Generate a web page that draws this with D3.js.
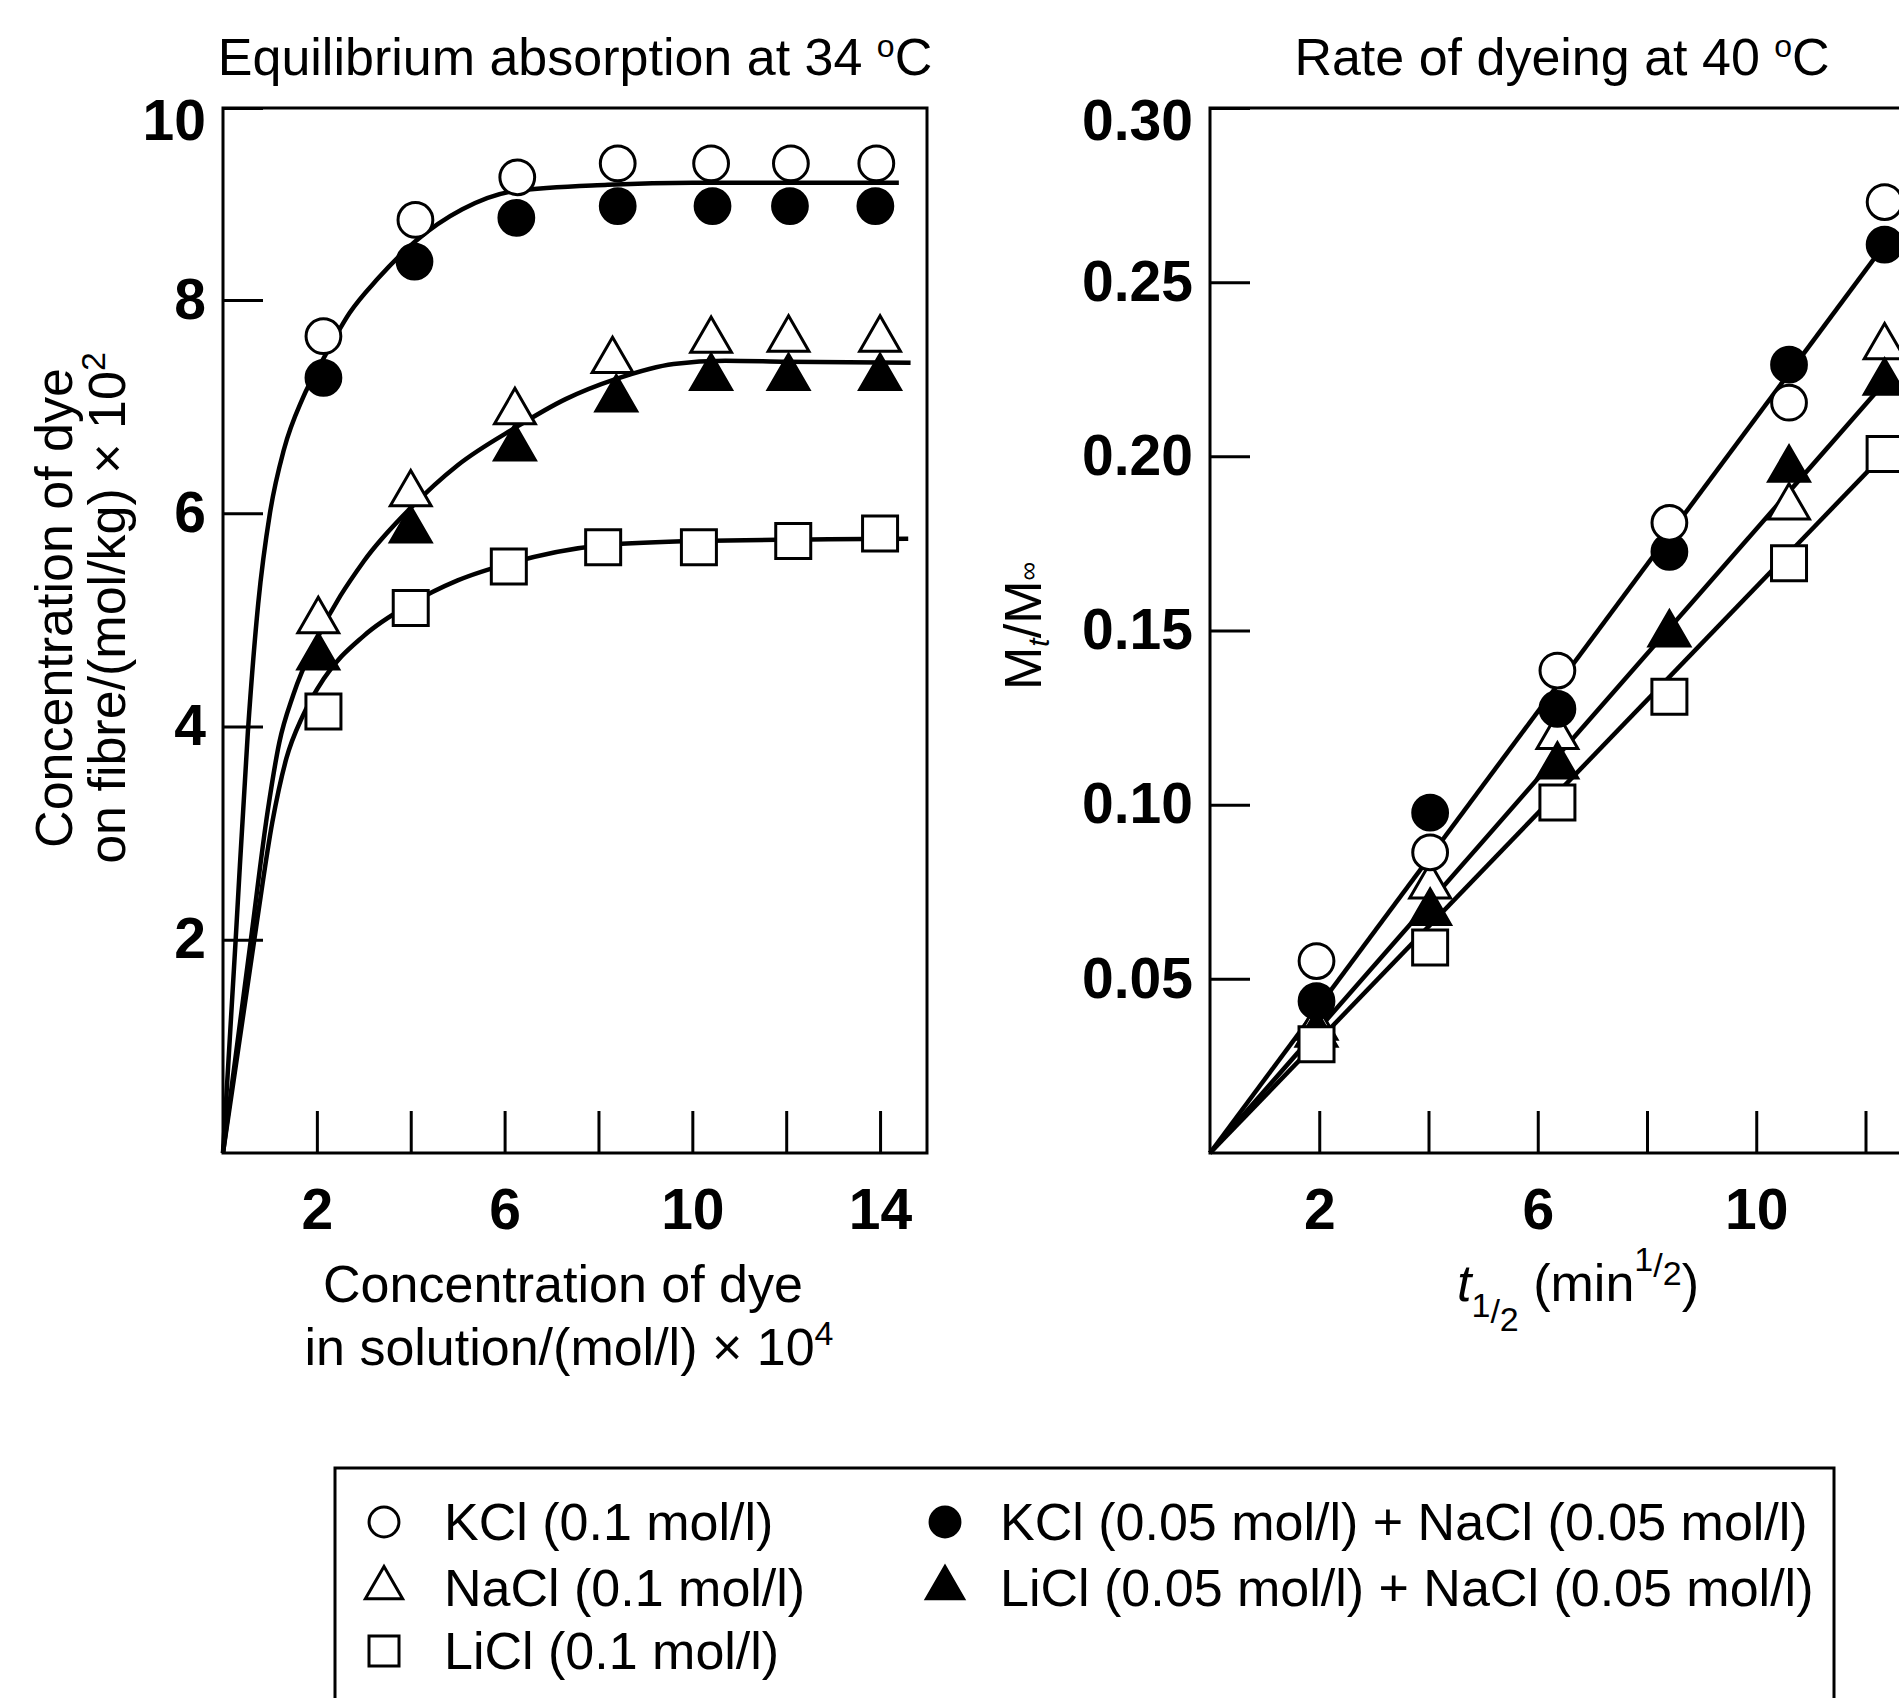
<!DOCTYPE html>
<html lang="en">
<head>
<meta charset="UTF-8">
<title>Dye absorption and rate of dyeing</title>
<script src="https://cdn.jsdelivr.net/npm/d3@7"></script>
<style>
  body { margin: 0; background: #fff; }
  svg { display: block; font-family: "Liberation Sans", Arial, Helvetica, sans-serif; }
  .tick text { font-weight: bold; font-size: 57px; fill: #000; }
  .tick line { stroke: #000; stroke-width: 3px; }
  .frame { fill: none; stroke: #000; stroke-width: 3px; }
  .fit { fill: none; stroke: #000; stroke-width: 4.5px; }
  .lbl { font-size: 52px; fill: #000; }
</style>
</head>
<body>
<svg id="chart" width="1899" height="1698"></svg>
<script>
// ---- left panel: equilibrium absorption at 34 oC ----
const eqTicksX = [2, 4, 6, 8, 10, 12, 14];
const eqLabelsX = [2, 6, 10, 14];
const eqTicksY = [2, 4, 6, 8, 10];

// measured points [conc in solution, conc on fibre]
const eqKCl      = [[2.14, 7.66], [4.10, 8.75], [6.27, 9.15], [8.41, 9.28], [10.4, 9.28], [12.1, 9.28], [13.92, 9.28]];
const eqKClNaCl  = [[2.14, 7.27], [4.08, 8.36], [6.25, 8.77], [8.41, 8.88], [10.43, 8.88], [12.08, 8.88], [13.9, 8.88]];
const eqNaCl     = [[2.03, 4.99], [4.0, 6.18], [6.22, 6.95], [8.3, 7.43], [10.4, 7.62], [12.05, 7.63], [14.0, 7.63]];
const eqLiClNaCl = [[2.03, 4.65], [4.0, 5.84], [6.22, 6.61], [8.38, 7.07], [10.4, 7.27], [12.05, 7.27], [14.0, 7.27]];
const eqLiCl     = [[2.14, 4.14], [4.0, 5.11], [6.09, 5.5], [8.1, 5.68], [10.14, 5.68], [12.15, 5.74], [14.0, 5.81]];

// fitted curves as drawn
const eqFitKCl  = [[0, 0], [0.27, 2.0], [0.53, 3.95], [0.75, 5.15], [1.0, 6.0], [1.3, 6.6], [1.7, 7.08], [2.14, 7.45],
                   [2.7, 7.88], [3.3, 8.2], [4.1, 8.55], [5.1, 8.85], [6.2, 9.02], [8.2, 9.08], [10, 9.1], [14.4, 9.1]];
const eqFitNaCl = [[0, 0], [0.6, 2.02], [0.95, 3.2], [1.2, 3.85], [1.5, 4.3], [2.0, 4.82], [3.0, 5.55], [4.0, 6.05],
                   [5.0, 6.45], [6.22, 6.8], [7.3, 7.07], [8.38, 7.26], [9.6, 7.4], [10.7, 7.43], [12, 7.42], [14.65, 7.41]];
const eqFitLiCl = [[0, 0], [0.7, 2.1], [1.05, 3.1], [1.35, 3.7], [1.7, 4.1], [2.15, 4.45], [3, 4.85], [4, 5.15],
                   [5, 5.37], [6.1, 5.53], [8.1, 5.7], [10.1, 5.74], [14.6, 5.76]];

// ---- right panel: rate of dyeing at 40 oC ----
const rateTicksX = [2, 4, 6, 8, 10, 12, 14];
const rateLabelsX = [2, 6, 10];
const rateTicksY = [0.05, 0.10, 0.15, 0.20, 0.25, 0.30];

const rateKCl      = [[1.95, 0.0551], [4.03, 0.0863], [6.36, 0.1385], [8.41, 0.1809], [10.6, 0.2154], [12.35, 0.2730]];
const rateKClNaCl  = [[1.95, 0.0436], [4.03, 0.0977], [6.36, 0.1275], [8.41, 0.1726], [10.6, 0.2263], [12.35, 0.2608]];
const rateNaCl     = [[1.95, 0.036], [4.03, 0.0766], [6.36, 0.1195], [10.6, 0.1854], [12.35, 0.2314]];
const rateLiClNaCl = [[1.95, 0.034], [4.03, 0.0690], [6.36, 0.111], [8.41, 0.1489], [10.6, 0.1962], [12.35, 0.2212]];
const rateLiCl     = [[1.95, 0.0312], [4.03, 0.0590], [6.36, 0.1006], [8.41, 0.131], [10.6, 0.1693], [12.35, 0.2007]];

const rateFitTop = [[0, 0], [12.35, 0.2608]];
const rateFitMid = [[0, 0], [12.35, 0.2212]];
const rateFitLow = [[0, 0], [12.35, 0.2007]];

// legend
const legendLabels = ["KCl (0.1 mol/l)", "NaCl (0.1 mol/l)", "LiCl (0.1 mol/l)",
                      "KCl (0.05 mol/l) + NaCl (0.05 mol/l)", "LiCl (0.05 mol/l) + NaCl (0.05 mol/l)"];

const svg = d3.select("#chart");
svg.append("rect").attr("width", 1899).attr("height", 1698).attr("fill", "#fff");

const symbols = {
    circle: d3.symbol(d3.symbolCircle, 950),
    triangle: d3.symbol(d3.symbolTriangle, 720),
    square: d3.symbol(d3.symbolSquare, 1225)
};
const legSymbols = {
    circle: d3.symbol(d3.symbolCircle, 700),
    triangle: d3.symbol(d3.symbolTriangle, 600),
    square: d3.symbol(d3.symbolSquare, 900)
};

// style per series: shape + filled
const styles = [
    {shape: "circle", filled: false},
    {shape: "triangle", filled: false},
    {shape: "square", filled: false},
    {shape: "circle", filled: true},
    {shape: "triangle", filled: true}
];

function drawMarkers(g, data, st, x, y) {
    g.selectAll(null)
        .data(data)
        .enter()
        .append("path")
        .attr("d", symbols[st.shape])
        .attr("transform", d => `translate(${x(d[0])},${y(d[1])})`)
        .attr("fill", st.filled ? "#000" : "#fff")
        .attr("stroke", "#000")
        .attr("stroke-width", 3);
}

function drawAxes(g, x, y, ticksX, labelsX, ticksY, fmtY, bottom, left) {
    g.append("g")
        .attr("transform", `translate(0,${bottom})`)
        .call(d3.axisBottom(x).tickValues(ticksX).tickSize(-42).tickSizeOuter(0).tickPadding(36)
            .tickFormat(d => labelsX.includes(d) ? d : ""))
        .call(a => a.select(".domain").remove());
    const top = d3.max(ticksY);
    g.append("g")
        .attr("transform", `translate(${left},0)`)
        .call(d3.axisLeft(y).tickValues(ticksY).tickSize(-40).tickSizeOuter(0).tickPadding(17).tickFormat(fmtY))
        .call(a => a.select(".domain").remove())
        // top label sits a little under the frame line
        .call(a => a.selectAll(".tick").filter(d => d === top).select("text").attr("dy", "0.55em"));
}

// ---------- left panel ----------
const xEq = d3.scaleLinear().domain([0, 15]).range([223, 927]);
const yEq = d3.scaleLinear().domain([0, 9.8]).range([1153, 108]).clamp(true);
const gEq = svg.append("g");

drawAxes(gEq, xEq, yEq, eqTicksX, eqLabelsX, eqTicksY, d3.format("d"), 1153, 223);

const curve = d3.line().x(d => xEq(d[0])).y(d => yEq(d[1])).curve(d3.curveMonotoneX);
[eqFitKCl, eqFitNaCl, eqFitLiCl].forEach(c => {
    gEq.append("path").attr("class", "fit").attr("d", curve(c));
});

gEq.append("rect").attr("class", "frame")
    .attr("x", xEq(0)).attr("y", yEq.range()[1])
    .attr("width", xEq(15) - xEq(0)).attr("height", yEq.range()[0] - yEq.range()[1]);

drawMarkers(gEq, eqLiCl, styles[2], xEq, yEq);
drawMarkers(gEq, eqLiClNaCl, styles[4], xEq, yEq);
drawMarkers(gEq, eqNaCl, styles[1], xEq, yEq);
drawMarkers(gEq, eqKClNaCl, styles[3], xEq, yEq);
drawMarkers(gEq, eqKCl, styles[0], xEq, yEq);

// titles
const t1 = svg.append("text").attr("class", "lbl").attr("x", 575).attr("y", 75).attr("text-anchor", "middle");
t1.append("tspan").text("Equilibrium absorption at 34 ");
t1.append("tspan").attr("font-size", 32).attr("dy", -18).text("o");
t1.append("tspan").attr("dy", 18).text("C");

const yl = svg.append("g").attr("transform", "translate(0,608) rotate(-90)");
yl.append("text").attr("class", "lbl").attr("x", 0).attr("y", 72).attr("text-anchor", "middle")
    .text("Concentration of dye");
const yl2 = yl.append("text").attr("class", "lbl").attr("x", 0).attr("y", 125).attr("text-anchor", "middle");
yl2.append("tspan").text("on fibre/(mol/kg) \u00d7 10");
yl2.append("tspan").attr("font-size", 34).attr("dy", -20).text("2");

svg.append("text").attr("class", "lbl").attr("x", 563).attr("y", 1302).attr("text-anchor", "middle")
    .text("Concentration of dye");
const xl2 = svg.append("text").attr("class", "lbl").attr("x", 569).attr("y", 1365).attr("text-anchor", "middle");
xl2.append("tspan").text("in solution/(mol/l) \u00d7 10");
xl2.append("tspan").attr("font-size", 34).attr("dy", -20).text("4");

// ---------- right panel ----------
const xRate = d3.scaleLinear().domain([0, 16]).range([1210, 2084]);
const yRate = d3.scaleLinear().domain([0, 0.30]).range([1153, 108]);
const gRate = svg.append("g");

drawAxes(gRate, xRate, yRate, rateTicksX, rateLabelsX, rateTicksY, d3.format(".2f"), 1153, 1210);

const straight = d3.line().x(d => xRate(d[0])).y(d => yRate(d[1]));
[rateFitTop, rateFitMid, rateFitLow].forEach(c => {
    gRate.append("path").attr("class", "fit").attr("d", straight(c));
});

gRate.append("rect").attr("class", "frame")
    .attr("x", xRate(0)).attr("y", yRate(0.30))
    .attr("width", xRate(16) - xRate(0)).attr("height", yRate(0) - yRate(0.30));

drawMarkers(gRate, rateNaCl, styles[1], xRate, yRate);
drawMarkers(gRate, rateLiClNaCl, styles[4], xRate, yRate);
drawMarkers(gRate, rateLiCl, styles[2], xRate, yRate);
drawMarkers(gRate, rateKClNaCl, styles[3], xRate, yRate);
drawMarkers(gRate, rateKCl, styles[0], xRate, yRate);

const t2 = svg.append("text").attr("class", "lbl").attr("x", 1562).attr("y", 75).attr("text-anchor", "middle");
t2.append("tspan").text("Rate of dyeing at 40 ");
t2.append("tspan").attr("font-size", 32).attr("dy", -18).text("o");
t2.append("tspan").attr("dy", 18).text("C");

const ml = svg.append("text").attr("class", "lbl").attr("text-anchor", "middle")
    .attr("transform", "translate(1041,626) rotate(-90)").attr("font-size", 44);
ml.append("tspan").text("M");
ml.append("tspan").attr("font-size", 30).attr("font-style", "italic").attr("dy", 8).text("t");
ml.append("tspan").attr("dy", -8).text("/M");
ml.append("tspan").attr("font-size", 26).attr("dy", -4).text("\u221e");

const tl = svg.append("text").attr("class", "lbl").attr("x", 1578).attr("y", 1301).attr("text-anchor", "middle");
tl.append("tspan").attr("font-style", "italic").text("t");
tl.append("tspan").attr("font-size", 34).attr("dy", 16).text("1");
tl.append("tspan").attr("font-size", 34).attr("dy", 6).text("/");
tl.append("tspan").attr("font-size", 34).attr("dy", 8).text("2");
tl.append("tspan").attr("dy", -30).text(" (min");
tl.append("tspan").attr("font-size", 34).attr("dy", -30).text("1");
tl.append("tspan").attr("font-size", 34).attr("dy", 6).text("/");
tl.append("tspan").attr("font-size", 34).attr("dy", 8).text("2");
tl.append("tspan").attr("dy", 16).text(")");

// ---------- legend ----------
const leg = svg.append("g");
leg.append("rect").attr("class", "frame").attr("x", 335).attr("y", 1468).attr("width", 1499).attr("height", 400);

const legPos = [
    {sx: 384, tx: 444, y: 1522},
    {sx: 384, tx: 444, y: 1588},
    {sx: 384, tx: 444, y: 1651},
    {sx: 945, tx: 1000, y: 1522},
    {sx: 945, tx: 1000, y: 1588}
];

legendLabels.forEach((lab, i) => {
    const p = legPos[i];
    const st = styles[i];
    leg.append("path")
        .attr("d", legSymbols[st.shape])
        .attr("transform", `translate(${p.sx},${p.y})`)
        .attr("fill", st.filled ? "#000" : "#fff")
        .attr("stroke", "#000")
        .attr("stroke-width", 3);
    leg.append("text").attr("class", "lbl")
        .attr("x", p.tx).attr("y", p.y + 18)
        .text(lab);
});
</script>
</body>
</html>
